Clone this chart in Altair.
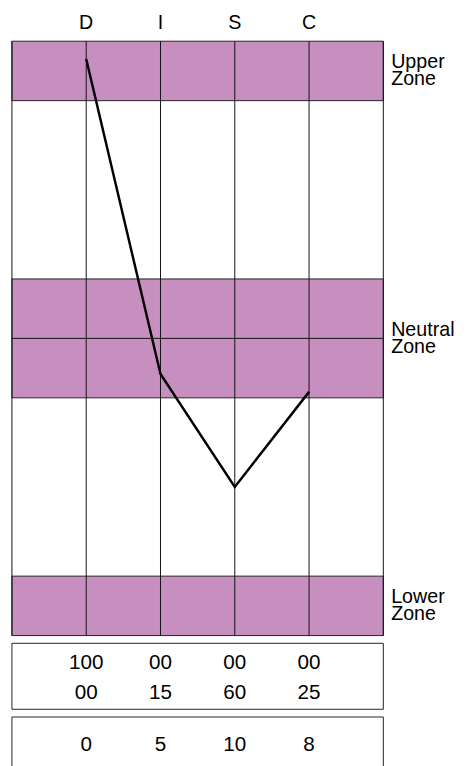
import altair as alt
import pandas as pd

# ---- data ----
columns = ["D", "I", "S", "C"]
col_pos = [1, 2, 3, 4]
graph_values = [97, 44, 25, 41]

zone_names = ["Upper\nZone", "Neutral\nZone", "Lower\nZone"]
zone_low = [90, 40, 0]
zone_high = [100, 60, 10]
neutral_mid = [50]

grid_x = [0, 1, 2, 3, 4, 5]

row_most = ["100", "00", "00", "00"]
row_least = ["00", "15", "60", "25"]
row_scores = ["0", "5", "10", "8"]

FONT = "Liberation Sans"
FILL = "#C78EC0"
YDOM = [-22, 100]
XDOM = [0, 5]

xs = alt.Scale(domain=XDOM, nice=False, zero=False)
ys = alt.Scale(domain=YDOM, nice=False, zero=False)

bands_df = pd.DataFrame({"lo": zone_low, "hi": zone_high})
bands = alt.Chart(bands_df).mark_rect(fill=FILL, stroke="#222", strokeWidth=1).encode(
    x=alt.datum(0, scale=xs, axis=None),
    x2=alt.datum(5),
    y=alt.Y("lo:Q", scale=ys, axis=None),
    y2="hi:Q",
)

mid_df = pd.DataFrame({"y": neutral_mid})
mid = alt.Chart(mid_df).mark_rule(color="#111", strokeWidth=1).encode(
    x=alt.datum(0, scale=xs, axis=None),
    x2=alt.datum(5),
    y=alt.Y("y:Q", scale=ys, axis=None),
)

grid_df = pd.DataFrame({"x": grid_x})
vlines = alt.Chart(grid_df).mark_rule(color="#111", strokeWidth=1).encode(
    x=alt.X("x:Q", scale=xs, axis=None),
    y=alt.datum(0, scale=ys, axis=None),
    y2=alt.datum(100),
)

line_df = pd.DataFrame({"x": col_pos, "v": graph_values, "c": columns})
line = alt.Chart(line_df).mark_line(color="black", strokeWidth=2.5).encode(
    x=alt.X("x:Q", scale=xs, axis=None),
    y=alt.Y("v:Q", scale=ys, axis=None),
    order="x:Q",
)

col_labels = alt.Chart(line_df).mark_text(
    font=FONT, fontSize=20, color="black", baseline="middle", align="center"
).encode(
    x=alt.X("x:Q", scale=xs, axis=None),
    y=alt.value(-18),
    text="c:N",
)

zones_df = pd.DataFrame({"name": zone_names, "lo": zone_low, "hi": zone_high})
zone_labels = alt.Chart(zones_df).transform_calculate(
    mid="(datum.lo + datum.hi) / 2"
).mark_text(
    font=FONT, fontSize=20, color="black", align="left", baseline="middle",
    lineBreak="\n", lineHeight=17, dx=8, dy=-8.5,
).encode(
    x=alt.datum(5, scale=xs, axis=None),
    y=alt.Y("mid:Q", scale=ys, axis=None),
    text="name:N",
)

box1 = alt.Chart(pd.DataFrame({"a": [0]})).mark_rect(
    fill="white", stroke="#222", strokeWidth=1
).encode(
    x=alt.datum(0, scale=xs, axis=None), x2=alt.datum(5),
    y=alt.datum(-1.3, scale=ys, axis=None), y2=alt.datum(-12.4),
)
box2 = alt.Chart(pd.DataFrame({"a": [0]})).mark_rect(
    fill="white", stroke="#222", strokeWidth=1
).encode(
    x=alt.datum(0, scale=xs, axis=None), x2=alt.datum(5),
    y=alt.datum(-13.7, scale=ys, axis=None), y2=alt.datum(-30),
)

def row_layer(values, yv):
    df = pd.DataFrame({"x": col_pos, "t": values})
    return alt.Chart(df).mark_text(
        font=FONT, fontSize=21, color="black", align="center", baseline="middle"
    ).encode(
        x=alt.X("x:Q", scale=xs, axis=None),
        y=alt.datum(yv, scale=ys, axis=None),
        text="t:N",
    )

chart = alt.layer(
    bands, mid, vlines, line, col_labels, zone_labels,
    box1, box2,
    row_layer(row_most, -4.6), row_layer(row_least, -9.75), row_layer(row_scores, -18.5),
).properties(
    width=378, height=738,
    autosize=alt.AutoSizeParams(type="none"),
    padding={"left": 4, "top": 27, "right": 76, "bottom": 0},
).configure_view(stroke=None)

chart.save("out.html", embed_options={"renderer": "svg", "actions": False})
